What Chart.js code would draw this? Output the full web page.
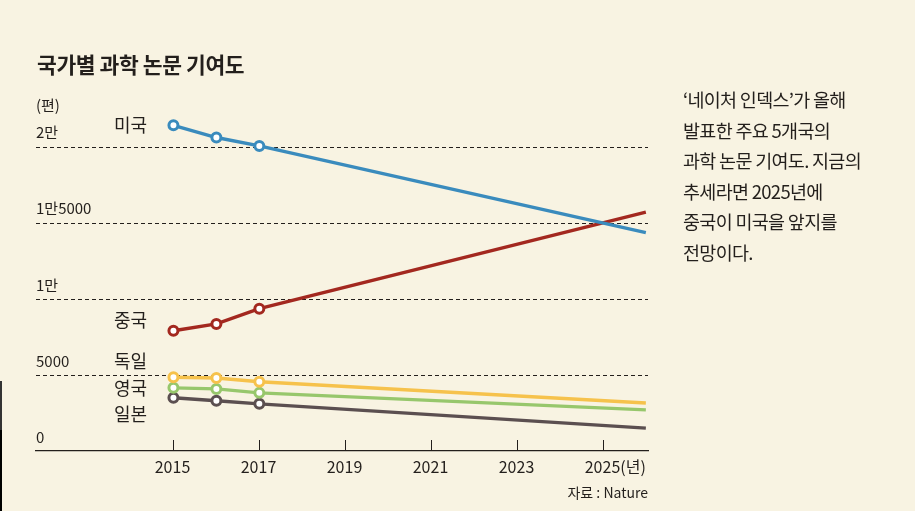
<!DOCTYPE html>
<html>
<head>
<meta charset="utf-8">
<script src="https://cdn.jsdelivr.net/npm/chart.js@4/dist/chart.umd.min.js"></script>
<style>
  html, body { margin: 0; padding: 0; }
  body { width: 915px; height: 511px; background: #f8f3e2; position: relative; overflow: hidden;
         font-family: "Noto Sans CJK KR", "Noto Sans", sans-serif; color: #231f1c; }
  #wrap { position: absolute; left: 0; top: 0; width: 915px; height: 511px; }
  .title { position: absolute; left: 37px; top: 48px; font-size: 21.5px; font-weight: 700; letter-spacing: -0.4px; }
  .note { position: absolute; left: 683px; top: 84px; font-size: 18.5px; line-height: 30.5px; letter-spacing: -0.7px; }
  .strip1 { position: absolute; left: 0; top: 381px; width: 2px; height: 49px; background: #333; }
  .strip2 { position: absolute; left: 0; top: 430px; width: 2px; height: 81px; background: #000; }
</style>
</head>
<body>
<div id="wrap"><canvas id="chart" width="915" height="511"></canvas></div>
<div class="title">국가별 과학 논문 기여도</div>
<div class="note">‘네이처 인덱스’가 올해<br>발표한 주요 5개국의<br>과학 논문 기여도. 지금의<br>추세라면 2025년에<br>중국이 미국을 앞지를<br>전망이다.</div>
<div class="strip1"></div>
<div class="strip2"></div>
<script>
// data
var years = [2015, 2016, 2017, 2026];
var countries = ['미국', '중국', '독일', '영국', '일본'];
var usa = [21400, 20600, 20050, 14350];
var china = [7900, 8350, 9350, 15700];
var germany = [4850, 4800, 4550, 3150];
var uk = [4150, 4080, 3820, 2700];
var japan = [3500, 3300, 3100, 1500];
var colors = ['#3a8bbd', '#a3281f', '#f6c24c', '#97c76c', '#5b4f50'];
var xTicks = [2015, 2017, 2019, 2021, 2023, 2025];
var yTicks = [0, 5000, 10000, 15000, 20000];
var yTickLabels = ['0', '5000', '1만', '1만5000', '2만'];
var labelY = [125, 320, 361, 388, 414];

var series = [usa, china, germany, uk, japan];
var font = '"Noto Sans CJK KR", "Noto Sans", sans-serif';

var datasets = series.map(function (vals, i) {
  return {
    label: countries[i],
    data: years.map(function (y, j) { return { x: y, y: vals[j] }; }),
    borderColor: colors[i],
    backgroundColor: '#ffffff',
    borderWidth: 3.4,
    pointRadius: [4.5, 4.5, 4.5, 0],
    pointHoverRadius: [4.5, 4.5, 4.5, 0],
    pointBorderWidth: 3,
    pointBorderColor: colors[i],
    pointBackgroundColor: '#ffffff',
    tension: 0,
    clip: false
  };
});

// dashed grid lines, drawn before the series
var grid = {
  id: 'dashGrid',
  beforeDatasetsDraw: function (chart) {
    var ctx = chart.ctx, ys = chart.scales.y, a = chart.chartArea;
    ctx.save();
    ctx.strokeStyle = '#231f1c';
    ctx.lineWidth = 1;
    ctx.setLineDash([4, 3]);
    yTicks.forEach(function (v) {
      if (v === 0) return;
      var py = Math.round(ys.getPixelForValue(v)) + 0.5;
      ctx.beginPath();
      ctx.moveTo(a.left, py);
      ctx.lineTo(a.right, py);
      ctx.stroke();
    });
    ctx.restore();
  }
};

var decor = {
  id: 'decor',
  afterDraw: function (chart) {
    var ctx = chart.ctx;
    var xs = chart.scales.x, ys = chart.scales.y;
    var bottom = chart.chartArea.bottom;
    ctx.save();
    ctx.fillStyle = '#231f1c';
    ctx.strokeStyle = '#231f1c';
    ctx.lineWidth = 1;

    // x ticks and labels
    ctx.font = '16px ' + font;
    ctx.textBaseline = 'middle';
    xTicks.forEach(function (t) {
      var px = Math.round(xs.getPixelForValue(t)) + 0.5;
      ctx.beginPath();
      ctx.moveTo(px, bottom - 11);
      ctx.lineTo(px, bottom);
      ctx.stroke();
      ctx.textAlign = 'center';
      ctx.fillText(String(t), px - 1, bottom + 16);
      if (t === 2025) {
        var w = ctx.measureText('2025').width;
        ctx.textAlign = 'left';
        ctx.fillText('(년)', px - 1 + w / 2, bottom + 16);
      }
    });

    // y labels above the grid lines
    ctx.font = '15px ' + font;
    ctx.textAlign = 'left';
    yTicks.forEach(function (v, i) {
      ctx.fillText(yTickLabels[i], chart.chartArea.left, ys.getPixelForValue(v) - 14);
    });
    ctx.fillText('(편)', chart.chartArea.left, ys.getPixelForValue(20000) - 41);

    // country labels
    ctx.font = '18px ' + font;
    countries.forEach(function (c, i) {
      ctx.fillText(c, 114, labelY[i]);
    });

    // source
    ctx.font = '14px ' + font;
    ctx.textAlign = 'right';
    ctx.fillText('자료 : Nature', chart.chartArea.right, bottom + 42);
    ctx.restore();
  }
};

new Chart(document.getElementById('chart'), {
  type: 'line',
  data: { datasets: datasets },
  plugins: [grid, decor],
  options: {
    responsive: false,
    animation: false,
    layout: { padding: { left: 36, right: 267, top: 101, bottom: 60 } },
    plugins: { legend: { display: false }, tooltip: { enabled: false } },
    scales: {
      x: {
        type: 'linear',
        min: 2011.8,
        max: 2026.05,
        ticks: { display: false },
        grid: { display: false, drawTicks: false },
        border: { display: true, color: '#231f1c', width: 1.2 },
        afterFit: function (s) { s.height = 0; }
      },
      y: {
        min: 0,
        max: 23000,
        ticks: { display: false },
        grid: { display: false, drawTicks: false },
        border: { display: false },
        afterFit: function (s) { s.width = 0; }
      }
    }
  }
});
</script>
</body>
</html>
